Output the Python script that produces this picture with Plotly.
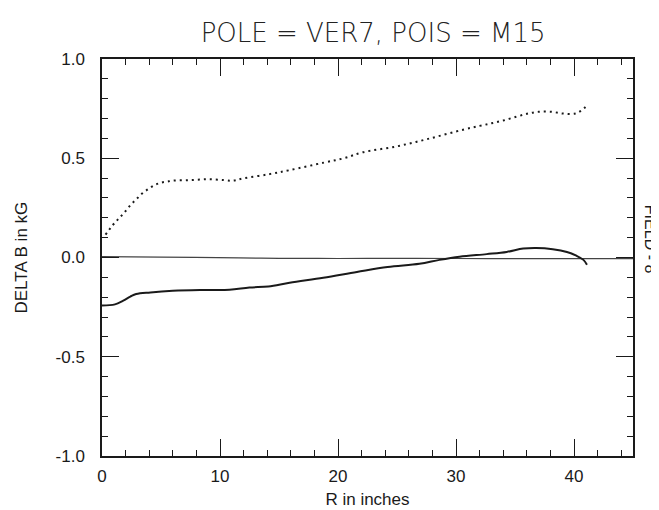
import plotly.graph_objects as go

# dotted curve (upper)
dot_x = [0.3, 0.9, 1.4, 1.9, 2.4, 2.9, 3.4, 4.0, 4.5, 5.0, 5.5, 6.0, 7.5, 9.0, 10.3, 11.1,
         12.0, 14.2, 15.9, 18.8, 20.5, 22.1, 25.0, 27.8, 30.6, 32.0, 33.0, 34.0, 35.1,
         36.1, 37.0, 38.1, 39.1, 40.1, 40.65, 41.2]
dot_y = [0.115, 0.162, 0.195, 0.227, 0.263, 0.293, 0.322, 0.348, 0.366, 0.377, 0.382, 0.387,
         0.390, 0.394, 0.390, 0.387, 0.399, 0.420, 0.440, 0.478, 0.500, 0.530, 0.560, 0.600,
         0.644, 0.663, 0.676, 0.690, 0.709, 0.725, 0.734, 0.734, 0.725, 0.725, 0.742, 0.771]

# solid curve (lower)
sol_x = [0, 1.1, 1.8, 2.4, 2.9, 4.1, 6.0, 8.3, 10.8, 12.5, 14.1, 15.9, 18.75, 21.6, 24.2,
         26.9, 28.6, 30.3, 32.6, 34.3, 35.7, 36.8, 38.2, 39.4, 40.2, 40.8, 41.1]
sol_y = [-0.242, -0.236, -0.217, -0.197, -0.184, -0.176, -0.168, -0.164, -0.163, -0.151,
         -0.146, -0.127, -0.102, -0.073, -0.048, -0.032, -0.012, 0.004, 0.017, 0.028,
         0.045, 0.048, 0.042, 0.028, 0.009, -0.012, -0.037]

# thin curve near zero
thin_x = [0, 5, 11.6, 15.0, 20.0, 25.0, 30.0, 36.0, 40.0, 45.0]
thin_y = [0.004, 0.002, -0.002, -0.004, -0.005, -0.004, -0.005, -0.006, -0.006, -0.006]

y_ticks = [1.0, 0.5, 0.0, -0.5, -1.0]
y_tick_labels = ["1.0", "0.5", "0.0", "-0.5", "-1.0"]
x_ticks = [0, 10, 20, 30, 40]
x_tick_labels = ["0", "10", "20", "30", "40"]

ink = "#1a1a1a"
sans = "Liberation Sans, Arial, sans-serif"

fig = go.Figure()
fig.add_trace(go.Scatter(x=thin_x, y=thin_y, mode="lines", line_shape="spline",
                         line=dict(color="#444", width=1.2), hoverinfo="skip"))
fig.add_trace(go.Scatter(x=sol_x, y=sol_y, mode="lines", line_shape="spline",
                         line=dict(color=ink, width=2), hoverinfo="skip"))
fig.add_trace(go.Scatter(x=dot_x, y=dot_y, mode="lines", line_shape="spline",
                         line=dict(color=ink, width=2.0, dash="2px,4px"), hoverinfo="skip"))

axis_common = dict(showline=True, linecolor=ink, linewidth=1.5, mirror="ticks",
                   ticks="inside", ticklen=17, tickwidth=1.3, tickcolor=ink,
                   showgrid=False, zeroline=False,
                   tickfont=dict(family=sans, size=17, color=ink))

fig.update_xaxes(range=[0, 45], tickvals=x_ticks, ticktext=x_tick_labels,
                 minor=dict(ticks="inside", ticklen=6, dtick=2, tick0=0, tickcolor=ink, tickwidth=1.2),
                 title=dict(text="R in inches", standoff=8,
                            font=dict(family=sans, size=17, color=ink)),
                 ticklabelstandoff=4,
                 **axis_common)
fig.update_yaxes(range=[-1, 1], tickvals=y_ticks, ticktext=y_tick_labels,
                 minor=dict(ticks="inside", ticklen=6, dtick=0.1, tick0=0, tickcolor=ink, tickwidth=1.2),
                 ticklabelstandoff=12,
                 **axis_common)

# the page body adds an 8px offset, so margins are shifted to land the frame at the reference position
fig.update_layout(
    width=659, height=510,
    margin=dict(l=94, r=34, t=51, b=51),
    paper_bgcolor="white", plot_bgcolor="white",
    showlegend=False,
    title=dict(text="POLE = VER7, POIS = M15", x=0.554, xanchor="center", y=0.952, yanchor="middle",
               font=dict(family="DejaVu Sans, sans-serif", size=26, color="#222", weight=200)),
    annotations=[
        dict(text="DELTA B in kG", textangle=-90, xref="paper", yref="paper",
             x=0, y=0.5, xanchor="center", yanchor="middle", xshift=-81, showarrow=False,
             font=dict(family=sans, size=17, color=ink)),
        dict(text="FIELD - 8", textangle=90, xref="paper", yref="paper",
             x=1.0, y=0.547, xanchor="center", yanchor="middle", xshift=17, showarrow=False,
             font=dict(family="Liberation Sans Narrow, Liberation Sans, sans-serif", size=16, color=ink)),
    ],
)

fig.write_html("out.html")
